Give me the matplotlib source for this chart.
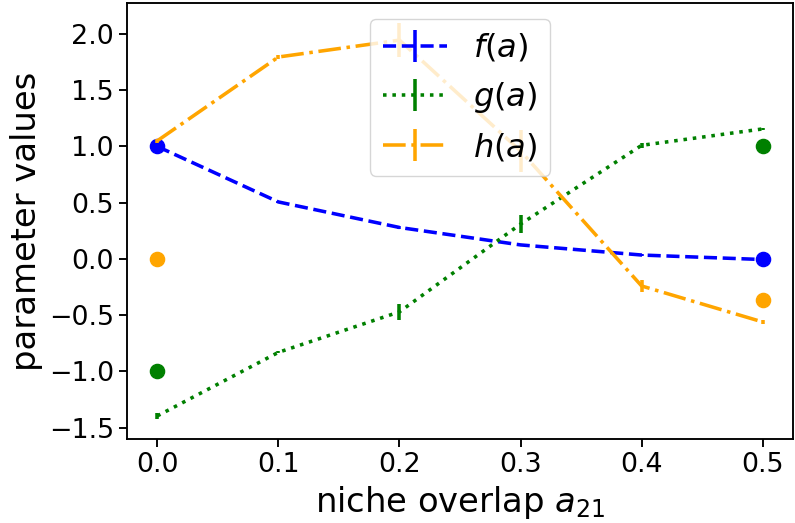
import matplotlib
matplotlib.use("Agg")
import matplotlib.pyplot as plt

a = [0.0, 0.1, 0.2, 0.3, 0.4, 0.5]
f_vals = [1.0, 0.507, 0.28, 0.125, 0.035, -0.005]
f_err = [0.03, 0.01, 0.01, 0.01, 0.01, 0.01]
g_vals = [-1.395, -0.83, -0.47, 0.31, 1.01, 1.156]
g_err = [0.03, 0.01, 0.07, 0.08, 0.02, 0.01]
h_vals = [1.05, 1.795, 1.945, 0.96, -0.24, -0.56]
h_err = [0.02, 0.02, 0.15, 0.19, 0.055, 0.02]

pts_x = [0.0, 0.0, 0.0, 0.5, 0.5, 0.5]
pts_y = [1.0, -1.0, 0.0, 0.0, 1.0, -0.364]
pts_c = ["blue", "green", "orange", "blue", "green", "orange"]

k = 1.7
fig = plt.figure(figsize=(7.95, 5.23), dpi=100)
ax = fig.add_axes([127/795, 1-439/523, (793-127)/795, (439-3)/523])

for x, y, c in zip(pts_x, pts_y, pts_c):
    ax.plot(x, y, "o", color=c, markersize=6*k)

ax.errorbar(a, f_vals, yerr=f_err, color="blue", ls="--", lw=1.5*k, elinewidth=1.5*k, label="$f(a)$")
ax.errorbar(a, g_vals, yerr=g_err, color="green", ls=":", lw=1.5*k, elinewidth=1.5*k, label="$g(a)$")
ax.errorbar(a, h_vals, yerr=h_err, color="orange", ls="-.", lw=1.5*k, elinewidth=1.5*k, label="$h(a)$")

ax.set_xlim(-0.025, 0.525)
ax.set_ylim(-1.6, 2.275)
ax.set_xticks([0.0, 0.1, 0.2, 0.3, 0.4, 0.5])
ax.set_yticks([-1.5, -1.0, -0.5, 0.0, 0.5, 1.0, 1.5, 2.0])
ax.tick_params(labelsize=11.4*k, width=0.8*k, length=3.5*k)
for s in ax.spines.values():
    s.set_linewidth(0.8*k)
ax.set_xlabel("niche overlap $a_{21}$", fontsize=14.3*k)
ax.set_ylabel("parameter values", fontsize=14.3*k)
ax.legend(loc="upper center", fontsize=13.6*k)

fig.savefig("out.png", dpi=100)
